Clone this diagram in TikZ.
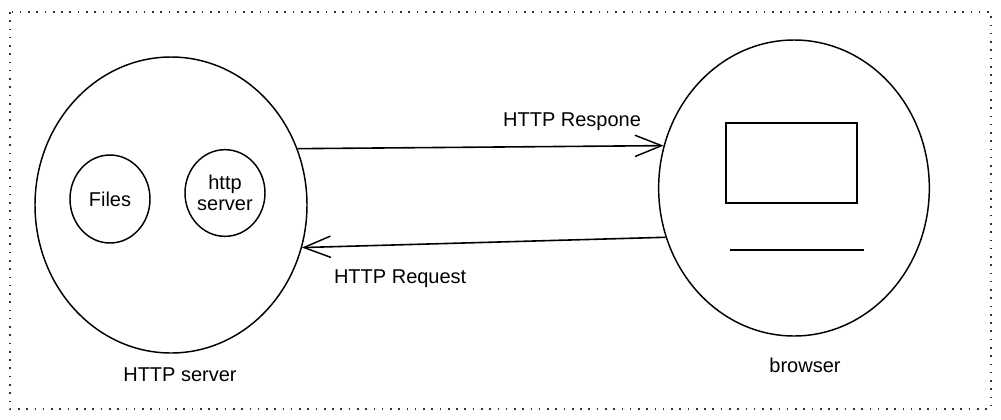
\documentclass[tikz,border=0pt]{standalone}
\usepackage{fontspec}
\setmainfont{Liberation Sans}
\usetikzlibrary{shapes.geometric,arrows.meta,positioning}

\begin{document}
\begin{tikzpicture}[x=0.75pt,y=-0.75pt,
    font=\fontsize{15}{16}\selectfont,
    bubble/.style={draw,ellipse,line width=1.1pt,inner sep=0pt,align=center},
    msg/.style={line width=1.2pt,-{Straight Barb[length=20pt,width=16pt,line width=1.1pt]}}]
  \useasboundingbox (0,0) rectangle (1001,419);
  \draw[black!80,line width=0.9pt,dash pattern=on 1.2pt off 5pt] (10,12) rectangle (991,409);

  \node[bubble,minimum width=204pt,minimum height=222pt] (server) at (171,205) {};
  \node[bubble,minimum width=60pt,minimum height=66pt] (files) at (110,199) {Files};
  \node[bubble,minimum width=60pt,minimum height=65pt] (httpd) at (225,193) {http\\server};
  \node (serverlabel) at (180,375) {HTTP server};

  \node[bubble,minimum width=203pt,minimum height=222pt] (browser) at (794,188) {};
  \node[draw,line width=1.1pt,minimum width=98pt,minimum height=60pt] (screen) at (791.5,163) {};
  \draw[line width=1.3pt] (730,250) -- (864,250);
  \node (browserlabel) at (805,365) {browser};

  \draw[msg] (server.24) -- node[pos=0.75,above=8pt] {HTTP Respone} (browser.162);
  \draw[msg] (browser.201) -- node[pos=0.73,below=15pt] {HTTP Request} (server.-18);
\end{tikzpicture}
\end{document}
